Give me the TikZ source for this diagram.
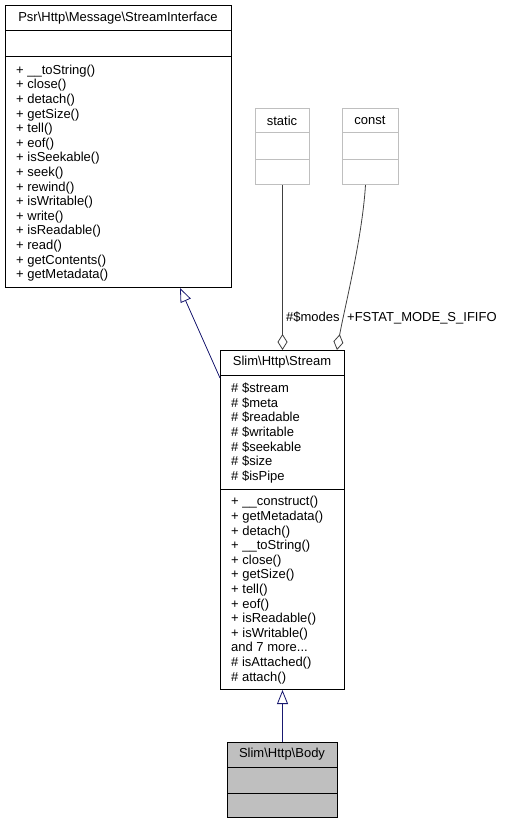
\documentclass[tikz,border=0pt]{standalone}
\usepackage{fontspec}
\setmainfont{Liberation Sans}
\usetikzlibrary{arrows.meta,calc}
\definecolor{edgeblue}{HTML}{191970}
\definecolor{aggr}{HTML}{404040}
\definecolor{lgray}{HTML}{BFBFBF}
\newcommand{\bs}{\textbackslash}
\newcommand{\threedots}{...}
\begin{document}
\begin{tikzpicture}[x=1pt,y=-1pt,
  font=\fontsize{13}{14.6}\selectfont,
  umlbox/.style={draw=black, line width=1pt, inner sep=0pt, anchor=north west},
  graybox/.style={draw=lgray, line width=1pt, inner sep=0pt, anchor=north west},
  sep/.style={draw=black, line width=1pt},
  gsep/.style={draw=lgray, line width=1pt},
  ttl/.style={inner sep=0pt, anchor=center},
  mem/.style={inner sep=0pt, anchor=base west},
  inh/.style={draw=edgeblue, line width=0.8pt, -{Triangle[open, length=14pt, width=11pt]}},
  agg/.style={draw=aggr, line width=0.8pt, {Diamond[open, length=16pt, width=10pt]}-},
  lbl/.style={inner sep=0pt, anchor=base west}]
\useasboundingbox (0,0) rectangle (507,824);
\fill[white] (0,0) rectangle (507,824);

% StreamInterface
\node[umlbox, minimum width=226pt, minimum height=282pt] (si) at (5,5) {};
\draw[sep] (si.west |- 0,31) -- (si.east |- 0,31);
\draw[sep] (si.west |- 0,57) -- (si.east |- 0,57);
\node[ttl] (sititle) at (118,18) {Psr\bs Http\bs Message\bs StreamInterface};
\foreach \t [count=\i from 0] in {\_\_toString(), close(), detach(), getSize(), tell(), eof(), isSeekable(), seek(), rewind(), isWritable(), write(), isReadable(), read(), getContents(), getMetadata()}
  \node[mem] (sim\i) at (16,{69.8+14.6*\i+4.5}) {+ \t};

% static
\node[graybox, minimum width=54pt, minimum height=76pt] (static) at (255,108) {};
\draw[gsep] (static.west |- 0,133) -- (static.east |- 0,133);
\draw[gsep] (static.west |- 0,159) -- (static.east |- 0,159);
\node[ttl] (statictitle) at (282,120.5) {static};

% const
\node[graybox, minimum width=56pt, minimum height=76pt] (const) at (342,108) {};
\draw[gsep] (const.west |- 0,133) -- (const.east |- 0,133);
\draw[gsep] (const.west |- 0,159) -- (const.east |- 0,159);
\node[ttl] (consttitle) at (370,120.5) {const};

% Stream
\node[umlbox, minimum width=124pt, minimum height=339pt] (stream) at (220,350) {};
\draw[sep] (stream.west |- 0,375) -- (stream.east |- 0,375);
\draw[sep] (stream.west |- 0,489) -- (stream.east |- 0,489);
\node[ttl] (streamtitle) at (282,362.5) {Slim\bs Http\bs Stream};
\foreach \t [count=\i from 0] in {\$stream, \$meta, \$readable, \$writable, \$seekable, \$size, \$isPipe}
  \node[mem] (sa\i) at (231,{388.2+14.6*\i+4.5}) {\# \t};
\foreach \t [count=\i from 0] in {+ \_\_construct(), + getMetadata(), + detach(), + \_\_toString(), + close(), + getSize(), + tell(), + eof(), + isReadable(), + isWritable(), and 7 more\threedots, \# isAttached(), \# attach()}
  \node[mem] (sm\i) at (231,{501.4+14.6*\i+4.5}) {\t};

% Body
\node[umlbox, fill=lgray, minimum width=110pt, minimum height=75pt] (body) at (227,742) {};
\draw[sep] (body.west |- 0,767) -- (body.east |- 0,767);
\draw[sep] (body.west |- 0,793) -- (body.east |- 0,793);
\node[ttl] (bodytitle) at (282,754.5) {Slim\bs Http\bs Body};

% edges
\draw[inh] (body.north) -- (stream.south);
\draw[inh] (stream.west |- 0,378) -- ($(si.south west)+(175,0)$);
\draw[agg] (stream.north) -- (static.south);
\draw[agg] ($(stream.north east)+(-8,0)$) .. controls (344,310) and (362,240) .. ($(const.south)+(-5,0)$);
\node[lbl] (modes) at (286,321.5) {\#\$modes};
\node[lbl] (fstat) at (347,321.5) {+FSTAT\_MODE\_S\_IFIFO};
\end{tikzpicture}
\end{document}
